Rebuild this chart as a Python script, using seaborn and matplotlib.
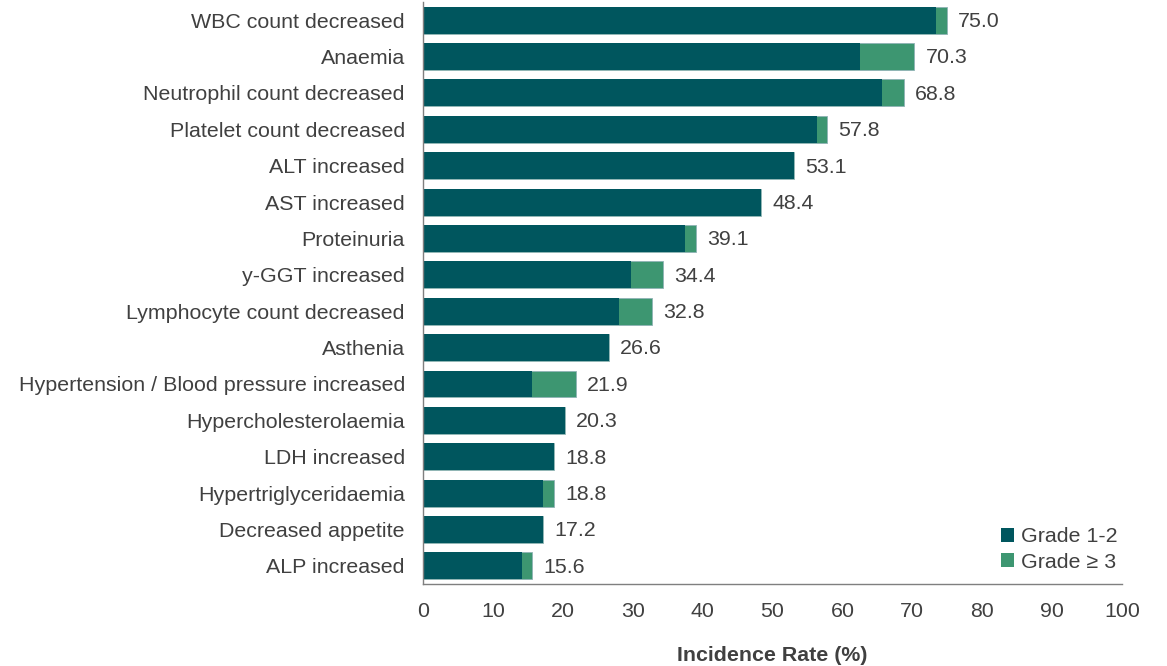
import matplotlib
matplotlib.use("Agg")
import matplotlib.pyplot as plt
from matplotlib.patches import Patch
import seaborn as sns
import pandas as pd

categories = [
    "WBC count decreased", "Anaemia", "Neutrophil count decreased",
    "Platelet count decreased", "ALT increased", "AST increased",
    "Proteinuria", "y-GGT increased", "Lymphocyte count decreased",
    "Asthenia", "Hypertension / Blood pressure increased",
    "Hypercholesterolaemia", "LDH increased", "Hypertriglyceridaemia",
    "Decreased appetite", "ALP increased",
]
total = [75.0, 70.3, 68.8, 57.8, 53.1, 48.4, 39.1, 34.4, 32.8, 26.6,
         21.9, 20.3, 18.8, 18.8, 17.2, 15.6]
grade12 = [73.4, 62.5, 65.6, 56.3, 53.1, 48.4, 37.5, 29.7, 28.1, 26.6,
           15.6, 20.3, 18.8, 17.2, 17.2, 14.1]
legend_labels = ["Grade 1-2", "Grade \u2265 3"]
xticks = [0, 10, 20, 30, 40, 50, 60, 70, 80, 90, 100]

DARK = "#00565E"
GREEN = "#3D9671"
TEXT = "#404040"
FS = 15.4

sns.set_style("white")
plt.rcParams["font.family"] = ["Liberation Sans", "DejaVu Sans"]

df = pd.DataFrame({"category": categories, "total": total, "grade12": grade12})

fig = plt.figure(figsize=(11.67, 6.66), dpi=100)
ax = fig.add_axes([0.3625, 0.123, 0.5989, 0.874])

sns.barplot(data=df, y="category", x="total", color=GREEN, saturation=1,
            width=0.74, orient="h", ax=ax, edgecolor="#8FB3B5", linewidth=0.6)
sns.barplot(data=df, y="category", x="grade12", color=DARK, saturation=1,
            width=0.74, orient="h", ax=ax, linewidth=0)

for i, v in enumerate(total):
    ax.annotate(f"{v:.1f}", xy=(v, i), xytext=(8, -1), textcoords="offset points",
                va="center", ha="left", fontsize=FS, color=TEXT)

ax.set_xlim(0, 100)
ax.set_ylim(len(categories) - 0.5, -0.5)
ax.set_xticks(xticks)
ax.tick_params(axis="both", length=0, labelsize=FS, colors=TEXT)
ax.tick_params(axis="x", pad=13)
ax.tick_params(axis="y", pad=13)
ax.set_ylabel("")
ax.set_xlabel("Incidence Rate (%)", fontsize=FS, fontweight="bold",
              color=TEXT, labelpad=18)

for side in ["top", "right"]:
    ax.spines[side].set_visible(False)
for side in ["left", "bottom"]:
    ax.spines[side].set_color("#7F7F7F")
    ax.spines[side].set_linewidth(1.0)

handles = [Patch(facecolor=DARK, edgecolor="none"),
           Patch(facecolor=GREEN, edgecolor="none")]
ax.legend(handles, legend_labels, loc="lower right", bbox_to_anchor=(1.022, -0.012),
          frameon=False, fontsize=FS, handlelength=0.6, handleheight=0.6,
          handletextpad=0.35, labelspacing=0.3, labelcolor=TEXT)

fig.savefig("out.png", dpi=100)
